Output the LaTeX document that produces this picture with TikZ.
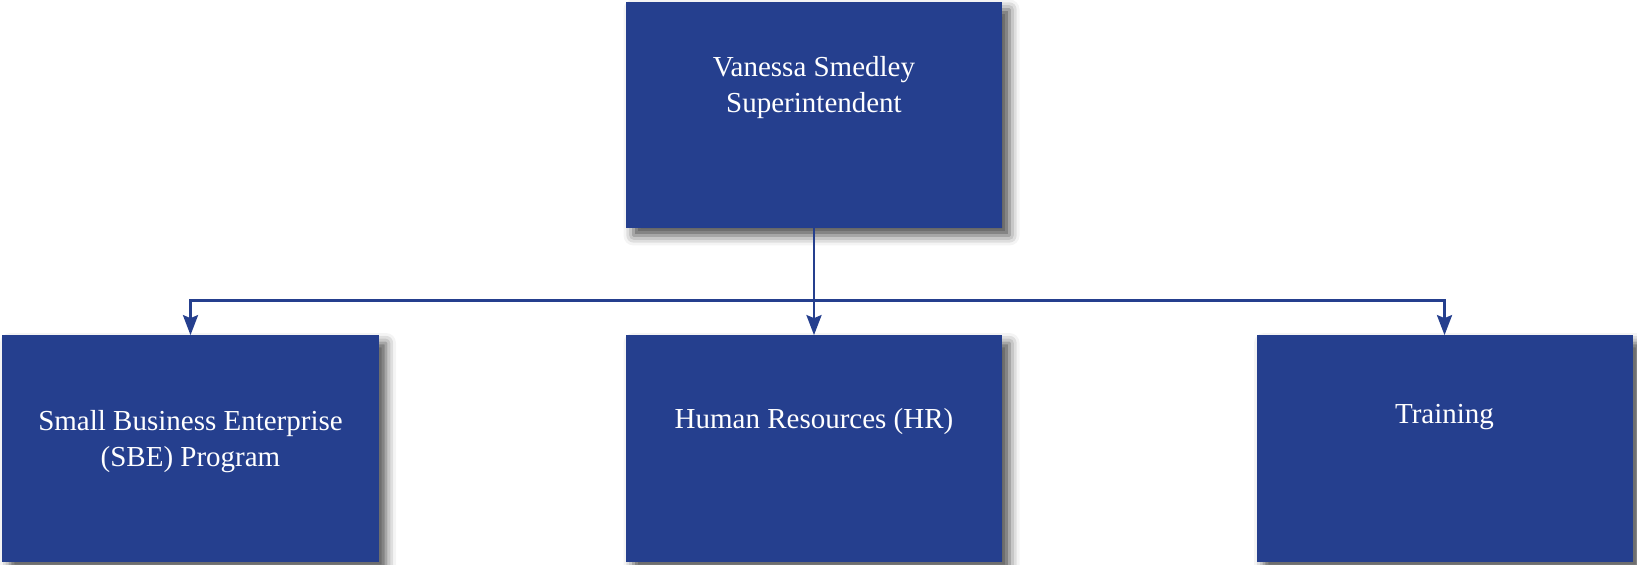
\documentclass[tikz,border=0pt]{standalone}
\usepackage{fontspec}
\setmainfont{Liberation Serif}
\usepackage{tikz}
\usetikzlibrary{arrows.meta,shadows.blur}

\definecolor{orgblue}{RGB}{37,63,142}
\newcommand{\boxtext}[2]{\raisebox{#1}[0pt][0pt]{\begin{tabular}[t]{@{}c@{}}#2\end{tabular}}}

\begin{document}
\begin{tikzpicture}[>={Stealth[length=4mm,width=3mm,inset=0.6mm]},
    level distance=6.67cm, sibling distance=12.54cm,
    every node/.style={rectangle,fill=orgblue,text=white,inner sep=0pt,
      minimum width=7.52cm,minimum height=4.52cm,
      font=\fontsize{16.5}{20.2}\selectfont,
      blur shadow={shadow xshift=1.5mm,shadow yshift=-1.5mm,shadow blur radius=2mm,shadow opacity=70}},
    edge from parent/.style={draw=orgblue,line width=1.6pt,->},
    edge from parent path={(\tikzparentnode.south) |- ([yshift=7mm]\tikzchildnode.north) -- (\tikzchildnode.north)}]
        \useasboundingbox (0,0) rectangle (32.74,-11.3);
        \node (super) at (16.28,-2.3) {\boxtext{0.76cm}{Vanessa Smedley\\Superintendent}}
        child[xshift=0.7mm] {
          node (sbe) {\boxtext{0.35cm}{Small Business Enterprise\\(SBE) Program}}
        }
        child {
          node (hr) {\boxtext{0.39cm}{Human Resources (HR)}}
        }
        child[xshift=0.7mm] {
          node (training) {\boxtext{0.49cm}{Training}}
        } ;

  \end{tikzpicture}
\end{document}
